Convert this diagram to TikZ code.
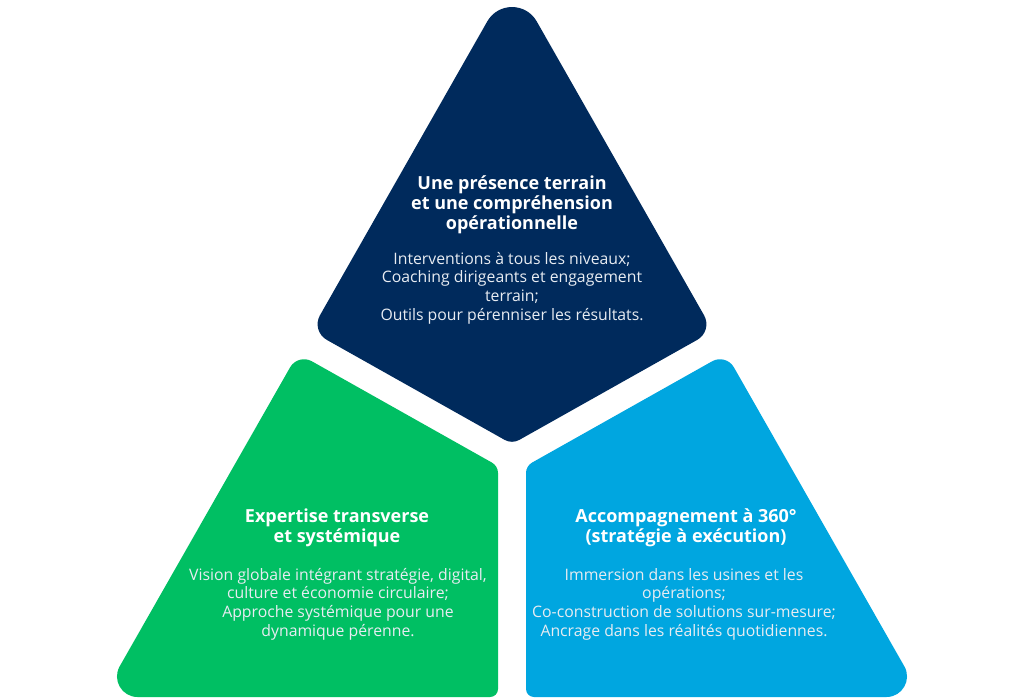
\documentclass[tikz,border=0pt]{standalone}
\usepackage{fontspec}
\setmainfont{Open Sans}
\usetikzlibrary{calc}
\definecolor{navy}{RGB}{0,42,92}
\definecolor{pgreen}{RGB}{0,191,99}
\definecolor{pblue}{RGB}{0,166,224}
\definecolor{bodytxt}{RGB}{232,236,242}
% rounded corner at #2 between #1 and #3: tangent length #4, control distance #5 from vertex
\newcommand\rndc[5]{-- ($(#2)!#4!(#1)$) .. controls ($(#2)!#5!(#1)$) and ($(#2)!#5!(#3)$) .. ($(#2)!#4!(#3)$)}
\begin{document}
\begin{tikzpicture}[x=1pt,y=-1pt,
  head/.style={text=white, align=center, inner sep=0pt, font=\bfseries\fontsize{18}{19.8}\selectfont},
  body/.style={text=bodytxt, align=center, inner sep=0pt, font=\fontsize{15.8}{18.6}\selectfont}]
\useasboundingbox (0,0) rectangle (1024,700);
\fill[white] (0,0) rectangle (1024,700);
% top shape
\coordinate (A) at (512,-22);
\coordinate (L) at (311,331);
\coordinate (Bt) at (512,444);
\coordinate (R) at (713,331);
\fill[navy] ($(A)!0.5!(L)$) \rndc{A}{L}{Bt}{18.1pt}{8.1pt} \rndc{L}{Bt}{R}{8.4pt}{3.2pt}
  \rndc{Bt}{R}{A}{18.1pt}{8.1pt} \rndc{R}{A}{L}{50pt}{27.9pt} -- cycle;
% green shape
\coordinate (G1) at (298,353.5);
\coordinate (G2) at (498,466);
\coordinate (G3) at (498,697);
\coordinate (G4) at (102.2,697);
\fill[pgreen] ($(G4)!0.5!(G1)$) \rndc{G4}{G1}{G2}{15.9pt}{7.1pt} \rndc{G1}{G2}{G3}{7pt}{2.7pt}
  \rndc{G2}{G3}{G4}{8pt}{3.6pt} \rndc{G3}{G4}{G1}{35.3pt}{19.6pt} -- cycle;
% blue shape
\coordinate (B1) at (726,353.5);
\coordinate (B2) at (526,466);
\coordinate (B3) at (526,697);
\coordinate (B4) at (921.8,697);
\fill[pblue] ($(B4)!0.5!(B1)$) \rndc{B4}{B1}{B2}{15.9pt}{7.1pt} \rndc{B1}{B2}{B3}{7pt}{2.7pt}
  \rndc{B2}{B3}{B4}{8pt}{3.6pt} \rndc{B3}{B4}{B1}{35.3pt}{19.6pt} -- cycle;
% texts
\node[head] (th) at (512,205) {Une présence terrain\\et une compréhension\\opérationnelle};
\node[body] (tb) at (512,288) {Interventions à tous les niveaux;\\Coaching dirigeants et engagement\\terrain;\\Outils pour pérenniser les résultats.};
\node[head] (gh) at (337,527.5) {Expertise transverse\\et systémique};
\node[body] (gb) at (338,604) {Vision globale intégrant stratégie, digital,\\culture et économie circulaire;\\Approche systémique pour une\\dynamique pérenne.};
\node[head] (bh) at (686,527.5) {Accompagnement à 360°\\(stratégie à exécution)};
\node[body] (bb) at (684,604) {Immersion dans les usines et les\\opérations;\\Co-construction de solutions sur-mesure;\\Ancrage dans les réalités quotidiennes.};
\end{tikzpicture}
\end{document}
